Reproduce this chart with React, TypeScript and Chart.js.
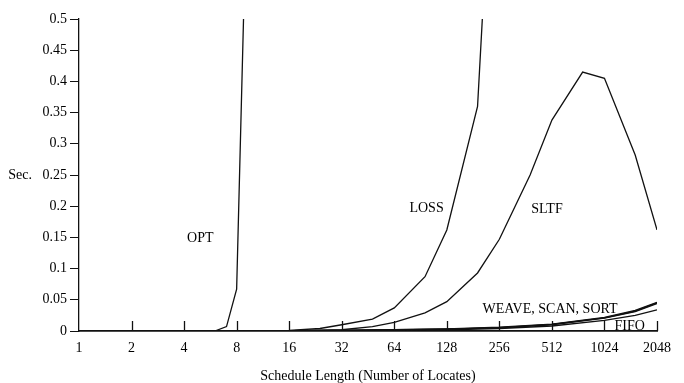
import React, { useEffect, useRef } from "react";
import { Chart, registerables } from "chart.js";

Chart.register(...registerables);

const xTickValues = [1, 2, 4, 8, 16, 32, 64, 128, 256, 512, 1024, 2048];
const yTickValues = [0, 0.05, 0.1, 0.15, 0.2, 0.25, 0.3, 0.35, 0.4, 0.45, 0.5];

const optX = [1, 2, 4, 6, 7, 8, 12];
const optY = [0, 0, 0, 0, 0.007, 0.067, 2.0];

const lossX = [1, 2, 4, 8, 16, 24, 32, 48, 64, 96, 128, 192, 256];
const lossY = [0, 0, 0, 0, 0.001, 0.004, 0.01, 0.019, 0.037, 0.087, 0.162, 0.36, 1.0];

const sltfX = [1, 2, 4, 8, 16, 32, 48, 64, 96, 128, 192, 256, 384, 512, 768, 1024, 1536, 2048];
const sltfY = [0, 0, 0, 0, 0, 0.002, 0.007, 0.014, 0.029, 0.047, 0.093, 0.147, 0.25, 0.338, 0.415, 0.405, 0.282, 0.162];

const lowX = [1, 2, 4, 8, 16, 32, 64, 128, 256, 512, 1024, 1536, 2048];
const weaveY = [0, 0, 0, 0, 0.0005, 0.001, 0.002, 0.0035, 0.006, 0.011, 0.022, 0.033, 0.046];
const scanY = [0, 0, 0, 0, 0.0005, 0.001, 0.002, 0.003, 0.0055, 0.0105, 0.021, 0.032, 0.045];
const sortY = [0, 0, 0, 0, 0.0004, 0.001, 0.0018, 0.003, 0.005, 0.01, 0.0205, 0.031, 0.044];
const fifoY = [0, 0, 0, 0, 0, 0.0005, 0.001, 0.002, 0.004, 0.008, 0.017, 0.025, 0.034];

const seriesLabels = [
  { text: "OPT", x: 4.95, y: 0.149, align: "center" },
  { text: "LOSS", x: 98, y: 0.197, align: "center" },
  { text: "SLTF", x: 480, y: 0.195, align: "center" },
  { text: "WEAVE, SCAN, SORT", x: 205, y: 0.035, align: "left" },
  { text: "FIFO", x: 1170, y: 0.008, align: "left" },
];

const FONT = "'Liberation Serif', 'Times New Roman', serif";

const toPoints = (xs: number[], ys: number[]) => xs.map((x, i) => ({ x, y: ys[i] }));

const lineStyle = {
  borderColor: "#111",
  borderWidth: 1.3,
  pointRadius: 0,
  tension: 0,
  fill: false,
};

const fmt = (v: number) => String(Number(v.toFixed(2)));

export default function App() {
  const ref = useRef<HTMLCanvasElement | null>(null);

  useEffect(() => {
    if (!ref.current) return;
    const decor = {
      id: "decor",
      afterDatasetsDraw(chart: any) {
        const ctx = chart.ctx;
        const xs = chart.scales.x;
        const ys = chart.scales.y;
        const bottom = chart.chartArea.bottom;
        ctx.save();
        ctx.strokeStyle = "#111";
        ctx.lineWidth = 1.3;
        xTickValues.slice(1).forEach((v) => {
          const px = Math.round(xs.getPixelForValue(v)) + 0.5;
          ctx.beginPath();
          ctx.moveTo(px, bottom);
          ctx.lineTo(px, bottom - 10);
          ctx.stroke();
        });
        ctx.fillStyle = "#000";
        ctx.font = `14px ${FONT}`;
        ctx.textBaseline = "middle";
        seriesLabels.forEach((l) => {
          ctx.textAlign = l.align;
          ctx.fillText(l.text, xs.getPixelForValue(l.x), ys.getPixelForValue(l.y));
        });
        ctx.textAlign = "right";
        ctx.fillText("Sec.", 32, ys.getPixelForValue(0.25));
        ctx.restore();
      },
    };

    const chart = new Chart(ref.current, {
      type: "line",
      data: {
        datasets: [
          { label: "OPT", data: toPoints(optX, optY), ...lineStyle },
          { label: "LOSS", data: toPoints(lossX, lossY), ...lineStyle },
          { label: "SLTF", data: toPoints(sltfX, sltfY), ...lineStyle },
          { label: "WEAVE", data: toPoints(lowX, weaveY), ...lineStyle },
          { label: "SCAN", data: toPoints(lowX, scanY), ...lineStyle },
          { label: "SORT", data: toPoints(lowX, sortY), ...lineStyle },
          { label: "FIFO", data: toPoints(lowX, fifoY), ...lineStyle },
        ],
      },
      options: {
        animation: false,
        responsive: false,
        layout: { padding: { left: 0, top: 19, right: 27, bottom: 0 } },
        plugins: { legend: { display: false }, tooltip: { enabled: false } },
        scales: {
          x: {
            type: "logarithmic",
            min: 1,
            max: 2048,
            afterBuildTicks: (s: any) => {
              s.ticks = xTickValues.map((v) => ({ value: v }));
            },
            afterFit: (s: any) => {
              s.height = 52;
            },
            ticks: {
              autoSkip: false,
              maxRotation: 0,
              color: "#000",
              padding: 9,
              font: { family: FONT, size: 14 },
              callback: (v: any) => String(v),
            },
            grid: { display: true, drawOnChartArea: false, drawTicks: false, color: "#111" },
            border: { display: true, color: "#111", width: 1.8 },
            title: {
              display: true,
              text: "Schedule Length (Number of Locates)",
              color: "#000",
              font: { family: FONT, size: 14 },
              padding: { top: 11, bottom: -2 },
            },
          },
          y: {
            type: "linear",
            min: 0,
            max: 0.5,
            afterBuildTicks: (s: any) => {
              s.ticks = yTickValues.map((v) => ({ value: v }));
            },
            afterFit: (s: any) => {
              s.width = 79;
            },
            ticks: {
              color: "#000",
              padding: 3,
              font: { family: FONT, size: 14 },
              callback: (v: any) => fmt(Number(v)),
            },
            grid: { display: true, drawOnChartArea: false, drawTicks: true, tickLength: 9, color: "#111" },
            border: { display: true, color: "#111", width: 1.3 },
          },
        },
      },
      plugins: [decor],
    } as any);
    return () => chart.destroy();
  }, []);

  return (
    <div style={{ position: "fixed", left: 0, top: 0, width: 684, height: 383, background: "#fff" }}>
      <canvas ref={ref} width={684} height={383} style={{ display: "block" }} />
    </div>
  );
}
